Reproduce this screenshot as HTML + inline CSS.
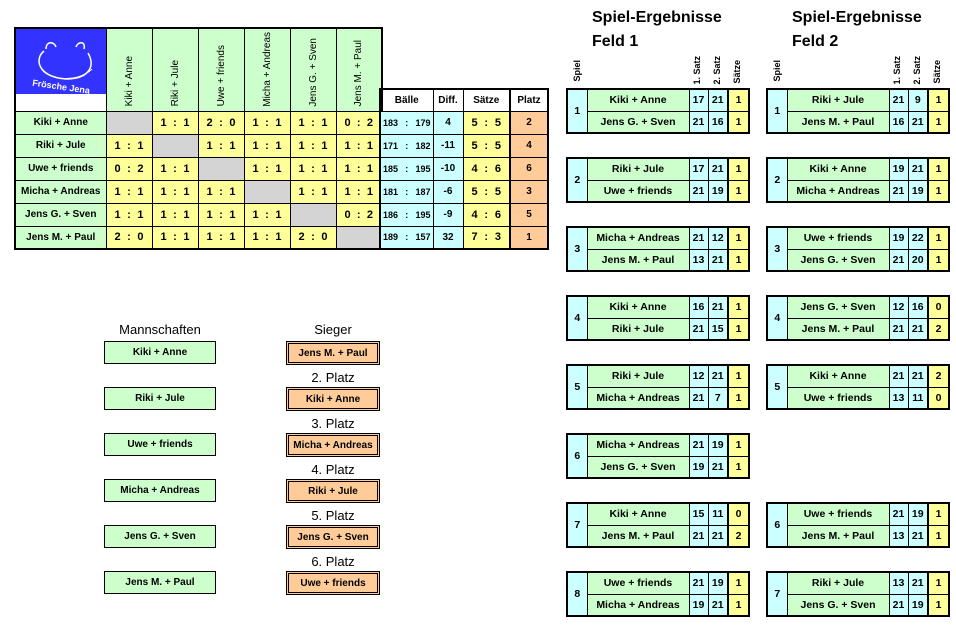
<!DOCTYPE html>
<html><head><meta charset="utf-8">
<style>
*{margin:0;padding:0;box-sizing:border-box}
body{width:956px;height:627px;background:#fff;position:relative;overflow:hidden;font-family:"Liberation Sans",Arial,sans-serif;color:#000}
.a{position:absolute}
table{border-collapse:collapse;table-layout:fixed;position:absolute}
td{border:1px solid #000;font-weight:bold;font-size:10px;text-align:center;padding:0;white-space:nowrap;overflow:hidden}
.g{background:#ccffcc}.y{background:#ffff99}.b{background:#ccffff}.o{background:#ffcc99}.x{background:#d4d4d4}
.sc span{display:inline-block}
.sc{text-align:left;padding:0 8px}
.sc div{display:flex;justify-content:space-between;font-size:11px}
.bl div{display:flex;justify-content:space-between;font-size:9px;padding:0 2px}
.vh{height:83px;vertical-align:bottom;font-weight:normal;font-size:10px}
.vh div{writing-mode:vertical-rl;transform:rotate(180deg);margin:0 auto 4px;}
.m{border:2px solid #000}
.m td{height:22px;font-size:10.5px}
.t{font-weight:bold;font-size:16px}
.bx{position:absolute;width:112px;height:23px;border:1px solid #000;background:#ccffcc;font-weight:bold;font-size:10px;display:flex;align-items:center;justify-content:center}
.sg{position:absolute;width:94px;height:24px;border:3px double #000;background:#ffcc99;font-weight:bold;font-size:10px;display:flex;align-items:center;justify-content:center}
.pl{position:absolute;width:94px;text-align:center;font-size:13px}
.vt{position:absolute;writing-mode:vertical-rl;transform:rotate(180deg);font-size:9px;font-weight:bold}
</style></head><body>

<table style="left:14px;top:27px;width:367px;border:2px solid #000">
<colgroup><col style="width:91px"><col style="width:46px"><col style="width:46px"><col style="width:46px"><col style="width:46px"><col style="width:46px"><col style="width:46px"></colgroup>
<tr style="height:83px"><td style="padding:0;vertical-align:top;background:#fff"><div style="background:#3333ff;height:65px;position:relative;color:#fff">
<svg width="89" height="65" style="position:absolute;left:0;top:0"><path d="M28 22 C18 30,22 48,50 50 C72 50,80 38,72 24" fill="none" stroke="#fff" stroke-width="1.5"/><path d="M30 20 C30 12,38 12,40 18 M60 18 C62 12,70 12,68 20" fill="none" stroke="#fff" stroke-width="1.5"/><path d="M24 36 C26 50,60 56,76 40" fill="none" stroke="#fff" stroke-width="1"/><text x="16" y="60" fill="#fff" font-size="9" font-family="Liberation Sans" transform="rotate(8 40 58)">Frösche Jena</text></svg></div></td>
<td class="g vh"><div>Kiki + Anne</div></td><td class="g vh"><div>Riki + Jule</div></td><td class="g vh"><div>Uwe + friends</div></td><td class="g vh"><div>Micha + Andreas</div></td><td class="g vh"><div>Jens G. + Sven</div></td><td class="g vh"><div>Jens M. + Paul</div></td></tr>
<tr style="height:23px"><td class="g">Kiki + Anne</td><td class="x"></td><td class="y sc"><div><span>1</span><span>:</span><span>1</span></div></td><td class="y sc"><div><span>2</span><span>:</span><span>0</span></div></td><td class="y sc"><div><span>1</span><span>:</span><span>1</span></div></td><td class="y sc"><div><span>1</span><span>:</span><span>1</span></div></td><td class="y sc"><div><span>0</span><span>:</span><span>2</span></div></td></tr>
<tr style="height:23px"><td class="g">Riki + Jule</td><td class="y sc"><div><span>1</span><span>:</span><span>1</span></div></td><td class="x"></td><td class="y sc"><div><span>1</span><span>:</span><span>1</span></div></td><td class="y sc"><div><span>1</span><span>:</span><span>1</span></div></td><td class="y sc"><div><span>1</span><span>:</span><span>1</span></div></td><td class="y sc"><div><span>1</span><span>:</span><span>1</span></div></td></tr>
<tr style="height:23px"><td class="g">Uwe + friends</td><td class="y sc"><div><span>0</span><span>:</span><span>2</span></div></td><td class="y sc"><div><span>1</span><span>:</span><span>1</span></div></td><td class="x"></td><td class="y sc"><div><span>1</span><span>:</span><span>1</span></div></td><td class="y sc"><div><span>1</span><span>:</span><span>1</span></div></td><td class="y sc"><div><span>1</span><span>:</span><span>1</span></div></td></tr>
<tr style="height:23px"><td class="g">Micha + Andreas</td><td class="y sc"><div><span>1</span><span>:</span><span>1</span></div></td><td class="y sc"><div><span>1</span><span>:</span><span>1</span></div></td><td class="y sc"><div><span>1</span><span>:</span><span>1</span></div></td><td class="x"></td><td class="y sc"><div><span>1</span><span>:</span><span>1</span></div></td><td class="y sc"><div><span>1</span><span>:</span><span>1</span></div></td></tr>
<tr style="height:23px"><td class="g">Jens G. + Sven</td><td class="y sc"><div><span>1</span><span>:</span><span>1</span></div></td><td class="y sc"><div><span>1</span><span>:</span><span>1</span></div></td><td class="y sc"><div><span>1</span><span>:</span><span>1</span></div></td><td class="y sc"><div><span>1</span><span>:</span><span>1</span></div></td><td class="x"></td><td class="y sc"><div><span>0</span><span>:</span><span>2</span></div></td></tr>
<tr style="height:23px"><td class="g">Jens M. + Paul</td><td class="y sc"><div><span>2</span><span>:</span><span>0</span></div></td><td class="y sc"><div><span>1</span><span>:</span><span>1</span></div></td><td class="y sc"><div><span>1</span><span>:</span><span>1</span></div></td><td class="y sc"><div><span>1</span><span>:</span><span>1</span></div></td><td class="y sc"><div><span>2</span><span>:</span><span>0</span></div></td><td class="x"></td></tr>
</table>

<table style="left:379px;top:88px;width:170px;border:2px solid #000">
<colgroup><col style="width:53px"><col style="width:30px"><col style="width:47px"><col style="width:38px"></colgroup>
<tr style="height:22px"><td style="font-size:10px">Bälle</td><td>Diff.</td><td>Sätze</td><td style="border-left:2px solid #000">Platz</td></tr>
<tr style="height:23px"><td class="b bl"><div><span>183</span><span>:</span><span>179</span></div></td><td class="b">4</td><td class="y sc"><div><span>5</span><span>:</span><span>5</span></div></td><td class="o" style="border-left:2px solid #000">2</td></tr>
<tr style="height:23px"><td class="b bl"><div><span>171</span><span>:</span><span>182</span></div></td><td class="b">-11</td><td class="y sc"><div><span>5</span><span>:</span><span>5</span></div></td><td class="o" style="border-left:2px solid #000">4</td></tr>
<tr style="height:23px"><td class="b bl"><div><span>185</span><span>:</span><span>195</span></div></td><td class="b">-10</td><td class="y sc"><div><span>4</span><span>:</span><span>6</span></div></td><td class="o" style="border-left:2px solid #000">6</td></tr>
<tr style="height:23px"><td class="b bl"><div><span>181</span><span>:</span><span>187</span></div></td><td class="b">-6</td><td class="y sc"><div><span>5</span><span>:</span><span>5</span></div></td><td class="o" style="border-left:2px solid #000">3</td></tr>
<tr style="height:23px"><td class="b bl"><div><span>186</span><span>:</span><span>195</span></div></td><td class="b">-9</td><td class="y sc"><div><span>4</span><span>:</span><span>6</span></div></td><td class="o" style="border-left:2px solid #000">5</td></tr>
<tr style="height:23px"><td class="b bl"><div><span>189</span><span>:</span><span>157</span></div></td><td class="b">32</td><td class="y sc"><div><span>7</span><span>:</span><span>3</span></div></td><td class="o" style="border-left:2px solid #000">1</td></tr>
</table>

<div class="a" style="left:104px;top:322px;width:112px;text-align:center;font-size:13px">Mannschaften</div>
<div class="bx" style="left:104px;top:341px">Kiki + Anne</div>
<div class="bx" style="left:104px;top:387px">Riki + Jule</div>
<div class="bx" style="left:104px;top:433px">Uwe + friends</div>
<div class="bx" style="left:104px;top:479px">Micha + Andreas</div>
<div class="bx" style="left:104px;top:525px">Jens G. + Sven</div>
<div class="bx" style="left:104px;top:571px">Jens M. + Paul</div>

<div class="pl" style="left:286px;top:322px">Sieger</div>
<div class="sg" style="left:286px;top:341px">Jens M. + Paul</div>
<div class="pl" style="left:286px;top:370px">2. Platz</div>
<div class="sg" style="left:286px;top:387px">Kiki + Anne</div>
<div class="pl" style="left:286px;top:416px">3. Platz</div>
<div class="sg" style="left:286px;top:433px">Micha + Andreas</div>
<div class="pl" style="left:286px;top:462px">4. Platz</div>
<div class="sg" style="left:286px;top:479px">Riki + Jule</div>
<div class="pl" style="left:286px;top:508px">5. Platz</div>
<div class="sg" style="left:286px;top:525px">Jens G. + Sven</div>
<div class="pl" style="left:286px;top:554px">6. Platz</div>
<div class="sg" style="left:286px;top:571px">Uwe + friends</div>

<div class="a t" style="left:592px;top:9px">Spiel-Ergebnisse</div>
<div class="a t" style="left:592px;top:33px">Feld 1</div>
<div class="a t" style="left:792px;top:9px">Spiel-Ergebnisse</div>
<div class="a t" style="left:792px;top:33px">Feld 2</div>
<div class="vt" style="left:572px;top:60px">Spiel</div>
<div class="vt" style="left:692px;top:56px">1. Satz</div>
<div class="vt" style="left:712px;top:56px">2. Satz</div>
<div class="vt" style="left:732px;top:60px">Sätze</div>
<div class="vt" style="left:772px;top:60px">Spiel</div>
<div class="vt" style="left:892px;top:56px">1. Satz</div>
<div class="vt" style="left:912px;top:56px">2. Satz</div>
<div class="vt" style="left:932px;top:60px">Sätze</div>

<table class="m" style="left:566px;top:88px;width:182px"><colgroup><col style="width:20px"><col style="width:102px"><col style="width:19px"><col style="width:20px"><col style="width:21px"></colgroup>
<tr><td class="b" rowspan="2">1</td><td class="g">Kiki + Anne</td><td class="b">17</td><td class="b">21</td><td class="y" style="border-left:2px solid #000">1</td></tr>
<tr><td class="g">Jens G. + Sven</td><td class="b">21</td><td class="b">16</td><td class="y" style="border-left:2px solid #000">1</td></tr></table>
<table class="m" style="left:566px;top:157px;width:182px"><colgroup><col style="width:20px"><col style="width:102px"><col style="width:19px"><col style="width:20px"><col style="width:21px"></colgroup>
<tr><td class="b" rowspan="2">2</td><td class="g">Riki + Jule</td><td class="b">17</td><td class="b">21</td><td class="y" style="border-left:2px solid #000">1</td></tr>
<tr><td class="g">Uwe + friends</td><td class="b">21</td><td class="b">19</td><td class="y" style="border-left:2px solid #000">1</td></tr></table>
<table class="m" style="left:566px;top:226px;width:182px"><colgroup><col style="width:20px"><col style="width:102px"><col style="width:19px"><col style="width:20px"><col style="width:21px"></colgroup>
<tr><td class="b" rowspan="2">3</td><td class="g">Micha + Andreas</td><td class="b">21</td><td class="b">12</td><td class="y" style="border-left:2px solid #000">1</td></tr>
<tr><td class="g">Jens M. + Paul</td><td class="b">13</td><td class="b">21</td><td class="y" style="border-left:2px solid #000">1</td></tr></table>
<table class="m" style="left:566px;top:295px;width:182px"><colgroup><col style="width:20px"><col style="width:102px"><col style="width:19px"><col style="width:20px"><col style="width:21px"></colgroup>
<tr><td class="b" rowspan="2">4</td><td class="g">Kiki + Anne</td><td class="b">16</td><td class="b">21</td><td class="y" style="border-left:2px solid #000">1</td></tr>
<tr><td class="g">Riki + Jule</td><td class="b">21</td><td class="b">15</td><td class="y" style="border-left:2px solid #000">1</td></tr></table>
<table class="m" style="left:566px;top:364px;width:182px"><colgroup><col style="width:20px"><col style="width:102px"><col style="width:19px"><col style="width:20px"><col style="width:21px"></colgroup>
<tr><td class="b" rowspan="2">5</td><td class="g">Riki + Jule</td><td class="b">12</td><td class="b">21</td><td class="y" style="border-left:2px solid #000">1</td></tr>
<tr><td class="g">Micha + Andreas</td><td class="b">21</td><td class="b">7</td><td class="y" style="border-left:2px solid #000">1</td></tr></table>
<table class="m" style="left:566px;top:433px;width:182px"><colgroup><col style="width:20px"><col style="width:102px"><col style="width:19px"><col style="width:20px"><col style="width:21px"></colgroup>
<tr><td class="b" rowspan="2">6</td><td class="g">Micha + Andreas</td><td class="b">21</td><td class="b">19</td><td class="y" style="border-left:2px solid #000">1</td></tr>
<tr><td class="g">Jens G. + Sven</td><td class="b">19</td><td class="b">21</td><td class="y" style="border-left:2px solid #000">1</td></tr></table>
<table class="m" style="left:566px;top:502px;width:182px"><colgroup><col style="width:20px"><col style="width:102px"><col style="width:19px"><col style="width:20px"><col style="width:21px"></colgroup>
<tr><td class="b" rowspan="2">7</td><td class="g">Kiki + Anne</td><td class="b">15</td><td class="b">11</td><td class="y" style="border-left:2px solid #000">0</td></tr>
<tr><td class="g">Jens M. + Paul</td><td class="b">21</td><td class="b">21</td><td class="y" style="border-left:2px solid #000">2</td></tr></table>
<table class="m" style="left:566px;top:571px;width:182px"><colgroup><col style="width:20px"><col style="width:102px"><col style="width:19px"><col style="width:20px"><col style="width:21px"></colgroup>
<tr><td class="b" rowspan="2">8</td><td class="g">Uwe + friends</td><td class="b">21</td><td class="b">19</td><td class="y" style="border-left:2px solid #000">1</td></tr>
<tr><td class="g">Micha + Andreas</td><td class="b">19</td><td class="b">21</td><td class="y" style="border-left:2px solid #000">1</td></tr></table>

<table class="m" style="left:766px;top:88px;width:182px"><colgroup><col style="width:20px"><col style="width:102px"><col style="width:19px"><col style="width:20px"><col style="width:21px"></colgroup>
<tr><td class="b" rowspan="2">1</td><td class="g">Riki + Jule</td><td class="b">21</td><td class="b">9</td><td class="y" style="border-left:2px solid #000">1</td></tr>
<tr><td class="g">Jens M. + Paul</td><td class="b">16</td><td class="b">21</td><td class="y" style="border-left:2px solid #000">1</td></tr></table>
<table class="m" style="left:766px;top:157px;width:182px"><colgroup><col style="width:20px"><col style="width:102px"><col style="width:19px"><col style="width:20px"><col style="width:21px"></colgroup>
<tr><td class="b" rowspan="2">2</td><td class="g">Kiki + Anne</td><td class="b">19</td><td class="b">21</td><td class="y" style="border-left:2px solid #000">1</td></tr>
<tr><td class="g">Micha + Andreas</td><td class="b">21</td><td class="b">19</td><td class="y" style="border-left:2px solid #000">1</td></tr></table>
<table class="m" style="left:766px;top:226px;width:182px"><colgroup><col style="width:20px"><col style="width:102px"><col style="width:19px"><col style="width:20px"><col style="width:21px"></colgroup>
<tr><td class="b" rowspan="2">3</td><td class="g">Uwe + friends</td><td class="b">19</td><td class="b">22</td><td class="y" style="border-left:2px solid #000">1</td></tr>
<tr><td class="g">Jens G. + Sven</td><td class="b">21</td><td class="b">20</td><td class="y" style="border-left:2px solid #000">1</td></tr></table>
<table class="m" style="left:766px;top:295px;width:182px"><colgroup><col style="width:20px"><col style="width:102px"><col style="width:19px"><col style="width:20px"><col style="width:21px"></colgroup>
<tr><td class="b" rowspan="2">4</td><td class="g">Jens G. + Sven</td><td class="b">12</td><td class="b">16</td><td class="y" style="border-left:2px solid #000">0</td></tr>
<tr><td class="g">Jens M. + Paul</td><td class="b">21</td><td class="b">21</td><td class="y" style="border-left:2px solid #000">2</td></tr></table>
<table class="m" style="left:766px;top:364px;width:182px"><colgroup><col style="width:20px"><col style="width:102px"><col style="width:19px"><col style="width:20px"><col style="width:21px"></colgroup>
<tr><td class="b" rowspan="2">5</td><td class="g">Kiki + Anne</td><td class="b">21</td><td class="b">21</td><td class="y" style="border-left:2px solid #000">2</td></tr>
<tr><td class="g">Uwe + friends</td><td class="b">13</td><td class="b">11</td><td class="y" style="border-left:2px solid #000">0</td></tr></table>
<table class="m" style="left:766px;top:502px;width:182px"><colgroup><col style="width:20px"><col style="width:102px"><col style="width:19px"><col style="width:20px"><col style="width:21px"></colgroup>
<tr><td class="b" rowspan="2">6</td><td class="g">Uwe + friends</td><td class="b">21</td><td class="b">19</td><td class="y" style="border-left:2px solid #000">1</td></tr>
<tr><td class="g">Jens M. + Paul</td><td class="b">13</td><td class="b">21</td><td class="y" style="border-left:2px solid #000">1</td></tr></table>
<table class="m" style="left:766px;top:571px;width:182px"><colgroup><col style="width:20px"><col style="width:102px"><col style="width:19px"><col style="width:20px"><col style="width:21px"></colgroup>
<tr><td class="b" rowspan="2">7</td><td class="g">Riki + Jule</td><td class="b">13</td><td class="b">21</td><td class="y" style="border-left:2px solid #000">1</td></tr>
<tr><td class="g">Jens G. + Sven</td><td class="b">21</td><td class="b">19</td><td class="y" style="border-left:2px solid #000">1</td></tr></table>

</body></html>
